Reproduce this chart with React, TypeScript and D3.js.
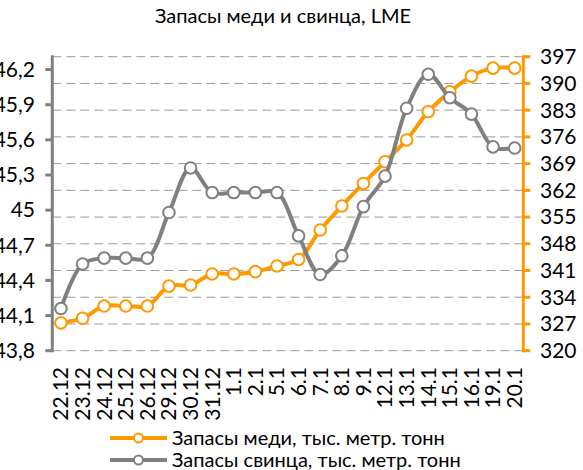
import React from "react";
import * as d3 from "d3";

const categories = ["22.12","23.12","24.12","25.12","26.12","29.12","30.12","31.12","1.1","2.1","5.1","6.1","7.1","8.1","9.1","12.1","13.1","14.1","15.1","16.1","19.1","20.1"];
const copper = [327.3,328.5,331.7,331.7,331.7,336.9,337.2,340.1,340.1,340.7,342.2,343.9,351.6,357.9,363.8,369.5,375.2,382.6,387.8,391.9,394.0,394.0];
const lead = [44.16,44.54,44.59,44.59,44.59,44.98,45.36,45.15,45.15,45.15,45.15,44.78,44.45,44.61,45.03,45.29,45.87,46.16,45.96,45.82,45.54,45.53];
const leftTicks = [43.8,44.1,44.4,44.7,45,45.3,45.6,45.9,46.2];
const rightTicks = [320,327,334,341,348,355,362,369,376,383,390,397];
const title = "Запасы  меди и свинца, LME";
const legendLabels = ["Запасы меди, тыс. метр. тонн","Запасы свинца, тыс. метр. тонн"];

const ORANGE = "#FF9900";
const GREY = "#808080";
const FONT = "Lato, 'Open Sans', sans-serif";

export default function App() {
  const W = 583, H = 470;
  const left = 52.3, right = 523.3, top = 56.7, bottom = 350.7;
  const x = d3.scalePoint<string>().domain(categories).range([left, right]).padding(0.4);
  const yL = d3.scaleLinear().domain([43.8, 46.31]).range([bottom, top]);
  const yR = d3.scaleLinear().domain([320, 397]).range([bottom, top]);
  const curve = d3.curveCatmullRom.alpha(0.5);
  const lineC = d3.line<number>().x((_, i) => x(categories[i])!).y(d => yR(d)).curve(curve);
  const lineL = d3.line<number>().x((_, i) => x(categories[i])!).y(d => yL(d)).curve(curve);
  const fmt = (v: number) => String(v).replace(".", ",");

  return (
    <svg width={W} height={H} style={{ position: "absolute", left: 0, top: 0 }} fontFamily={FONT}>
      <rect width={W} height={H} fill="#fff" />
      <text x={283} y={23} textAnchor="middle" fontSize={20} fill="#000">{title}</text>
      {rightTicks.map(t => (
        <line key={"g" + t} x1={left} x2={right} y1={yR(t)} y2={yR(t)} stroke="#999" strokeWidth={1} strokeDasharray="9,5" />
      ))}
      {/* left axis */}
      <line x1={left} x2={left} y1={top - 1.5} y2={bottom + 1.5} stroke={GREY} strokeWidth={3} />
      {leftTicks.map(t => (
        <g key={"l" + t}>
          <line x1={left - 7} x2={left} y1={yL(t)} y2={yL(t)} stroke={GREY} strokeWidth={3} />
          <text x={35} y={yL(t)} dy="0.35em" textAnchor="end" fontSize={21} fill="#000">{fmt(t)}</text>
        </g>
      ))}
      {/* right axis */}
      <line x1={right} x2={right} y1={top - 1.5} y2={bottom + 1.5} stroke={ORANGE} strokeWidth={3} />
      {rightTicks.map(t => (
        <g key={"r" + t}>
          <line x1={right} x2={right + 7} y1={yR(t)} y2={yR(t)} stroke={ORANGE} strokeWidth={3} />
          <text x={540} y={yR(t)} dy="0.35em" textAnchor="start" fontSize={21} fill="#000">{t}</text>
        </g>
      ))}
      {/* x labels */}
      {categories.map(c => (
        <text key={"x" + c} transform={`translate(${x(c)},367) rotate(-90)`} textAnchor="end" dy="0.35em" fontSize={21} fill="#000">{c}</text>
      ))}
      {/* series */}
      <path d={lineC(copper)!} fill="none" stroke={ORANGE} strokeWidth={4} />
      {copper.map((v, i) => (
        <circle key={"c" + i} cx={x(categories[i])} cy={yR(v)} r={5.8} fill="#fff" stroke={ORANGE} strokeWidth={2} />
      ))}
      <path d={lineL(lead)!} fill="none" stroke={GREY} strokeWidth={4} />
      {lead.map((v, i) => (
        <circle key={"p" + i} cx={x(categories[i])} cy={yL(v)} r={5.8} fill="#fff" stroke={GREY} strokeWidth={2} />
      ))}
      {/* legend */}
      {[ORANGE, GREY].map((col, i) => (
        <g key={"lg" + i} transform={`translate(0,${438 + i * 22})`}>
          <line x1={110} x2={167} y1={0} y2={0} stroke={col} strokeWidth={4} />
          <circle cx={138.5} cy={0} r={4.5} fill="#fff" stroke={col} strokeWidth={2} />
          <text x={172} y={0} dy="0.35em" fontSize={20} fill="#000">{legendLabels[i]}</text>
        </g>
      ))}
    </svg>
  );
}
